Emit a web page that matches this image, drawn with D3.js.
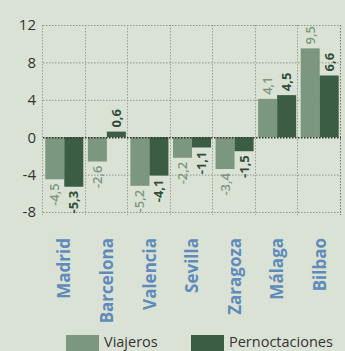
<!DOCTYPE html>
<html>
<head>
<meta charset="utf-8">
<script src="https://cdn.jsdelivr.net/npm/d3@7"></script>
<style>
  html, body { margin: 0; padding: 0; background: #dae2d5; }
  svg { display: block; }
</style>
</head>
<body>
<svg id="chart" width="345" height="351"></svg>
<script>
// Variación interanual (%) por ciudad
const cities = ["Madrid", "Barcelona", "Valencia", "Sevilla", "Zaragoza", "Málaga", "Bilbao"];
const viajeros = [-4.5, -2.6, -5.2, -2.2, -3.4, 4.1, 9.5];
const pernoctaciones = [-5.3, 0.6, -4.1, -1.1, -1.5, 4.5, 6.6];
const yTicks = [12, 8, 4, 0, -4, -8];
const seriesNames = ["Viajeros", "Pernoctaciones"];
const seriesColors = ["#7b977f", "#3a5d43"];

const W = 345, H = 351;
const margin = { top: 25, right: 4, bottom: 139, left: 43 };
const svg = d3.select("#chart");

const x = d3.scaleBand().domain(cities).range([margin.left, W - margin.right]).paddingInner(0).paddingOuter(0);
const y = d3.scaleLinear().domain([-8, 12]).range([H - margin.bottom, margin.top]);
const inner = d3.scaleBand().domain(seriesNames).range([0, x.bandwidth()]).paddingInner(0).paddingOuter(0.12);

const fmt = v => d3.format(".1f")(v).replace(".", ",").replace("\u2212", "-");
const font = "'Open Sans', Lato, sans-serif";

// grid
const grid = svg.append("g");
yTicks.filter(t => t !== 0).forEach(t => {
  grid.append("line")
    .attr("x1", margin.left).attr("x2", W - margin.right)
    .attr("y1", y(t) + 0.5).attr("y2", y(t) + 0.5)
    .attr("stroke", "#8f948c").attr("stroke-width", 1).attr("stroke-dasharray", "1.5,1.5");
});
const bounds = cities.map(c => x(c)).concat([W - margin.right]);
bounds.forEach((bx, i) => {
  grid.append("line")
    .attr("x1", Math.round(bx) - 0.5).attr("x2", Math.round(bx) - 0.5)
    .attr("y1", y(12)).attr("y2", y(-8) + 3)
    .attr("stroke", i === bounds.length - 1 ? "#6d726b" : "#9a9f97")
    .attr("stroke-width", 1).attr("stroke-dasharray", "1.5,1.5");
});

// y axis labels
const yAxis = d3.axisLeft(y).tickValues(yTicks).tickSize(0).tickPadding(7)
  .tickFormat(d => String(d));
const ya = svg.append("g").attr("transform", `translate(${margin.left},0)`).call(yAxis);
ya.select(".domain").remove();
ya.selectAll("text")
  .attr("font-family", font)
  .attr("font-size", 15).attr("fill", "#333");

// bars
const series = [viajeros, pernoctaciones];
series.forEach((vals, si) => {
  svg.append("g").selectAll("rect").data(vals).join("rect")
    .attr("x", (d, i) => x(cities[i]) + inner(seriesNames[si]))
    .attr("width", inner.bandwidth())
    .attr("y", d => y(Math.max(0, d)))
    .attr("height", d => Math.abs(y(d) - y(0)))
    .attr("fill", seriesColors[si]);
});

// zero line
svg.append("line")
  .attr("x1", margin.left).attr("x2", W - margin.right)
  .attr("y1", y(0) + 0.5).attr("y2", y(0) + 0.5)
  .attr("stroke", "#2f332e").attr("stroke-width", 1.5).attr("stroke-dasharray", "1.5,1.5");

// value labels
series.forEach((vals, si) => {
  svg.append("g").selectAll("text").data(vals).join("text")
    .attr("transform", (d, i) => {
      const cx = x(cities[i]) + inner(seriesNames[si]) + inner.bandwidth() / 2;
      const cy = d >= 0 ? y(d) - 4 : y(d) + 4;
      return `translate(${cx},${cy}) rotate(-90)`;
    })
    .attr("dy", "0.35em")
    .attr("text-anchor", d => d >= 0 ? "start" : "end")
    .attr("font-family", font)
    .attr("font-size", 13)
    .attr("font-weight", si === 1 ? "bold" : 600)
    .attr("fill", si === 1 ? "#2f4e37" : "#7b977f")
    .text(d => fmt(d));
});

// category labels
svg.append("g").selectAll("text").data(cities).join("text")
  .attr("transform", c => `translate(${x(c) + x.bandwidth() / 2},238) rotate(-90)`)
  .attr("dy", "0.36em")
  .attr("text-anchor", "end")
  .attr("font-family", font)
  .attr("font-size", 17)
  .attr("font-weight", "bold")
  .attr("fill", "#5f8bbb")
  .text(c => c);

// legend (kept inside the bottom edge)
const legendX = [66, 191];
seriesNames.forEach((name, i) => {
  const g = svg.append("g").attr("transform", `translate(${legendX[i]},335)`);
  g.append("rect").attr("width", 33).attr("height", 16).attr("fill", seriesColors[i]);
  g.append("text").attr("x", 38).attr("y", 12)
    .attr("font-family", font)
    .attr("font-size", 14.5).attr("fill", "#333")
    .text(name);
});
</script>
</body>
</html>
